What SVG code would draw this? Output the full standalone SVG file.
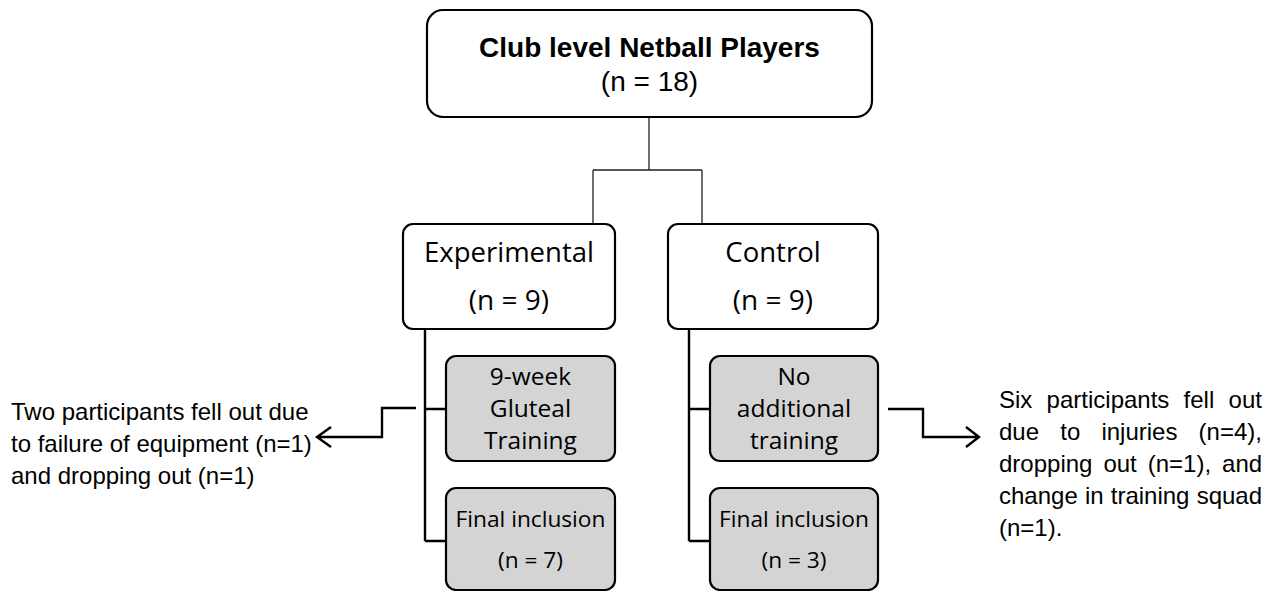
<svg xmlns="http://www.w3.org/2000/svg" width="1270" height="591" viewBox="0 0 1270 591">
<style>
.box{fill:#fff;stroke:#000;stroke-width:2.2}
.gbox{fill:#d4d4d4;stroke:#000;stroke-width:2.2}
.thin{fill:none;stroke:#222;stroke-width:1.3}
.thick{fill:none;stroke:#000;stroke-width:2.4}
.ar{font-family:"Liberation Sans",Arial,sans-serif;fill:#000}
.cb{font-family:"Open Sans","Noto Sans",sans-serif;fill:#000;text-anchor:middle}
</style>
<rect width="1270" height="591" fill="#fff"/>
<g id="connectors">
  <path class="thin" d="M649,117 V170 M593,170 H702 M593,170 V224 M702,170 V224"/>
  <path class="thick" d="M425,329 V541 M425,409 H446 M425,541 H446"/>
  <path class="thick" d="M689,329 V541 M689,409 H710 M689,541 H710"/>
  <path class="thick" d="M416,408 H382 V437 H317 M331,427 L317,437 L331,447"/>
  <path class="thick" d="M888,409 H923 V437 H979 M966,427 L979,437 L966,447"/>
</g>
<g id="root">
  <rect class="box" x="427" y="10" width="445" height="107" rx="16"/>
  <text class="ar" x="649.5" y="57" font-size="28" font-weight="bold" text-anchor="middle">Club level Netball Players</text>
  <text class="ar" x="649.5" y="91" font-size="28" text-anchor="middle">(n = 18)</text>
</g>
<g id="experimental">
  <rect class="box" x="403" y="224" width="212" height="105" rx="10"/>
  <text class="cb" x="509" y="262" font-size="27.5">Experimental</text>
  <text class="cb" x="509" y="310" font-size="28">(n = 9)</text>
</g>
<g id="control">
  <rect class="box" x="668" y="224" width="210" height="105" rx="10"/>
  <text class="cb" x="773" y="262" font-size="27.5">Control</text>
  <text class="cb" x="773" y="310" font-size="28">(n = 9)</text>
</g>
<g id="gluteal">
  <rect class="gbox" x="446" y="356" width="169" height="105" rx="10"/>
  <text class="cb" x="530.5" y="385" font-size="24.5">9-week</text>
  <text class="cb" x="530.5" y="417" font-size="24.5">Gluteal</text>
  <text class="cb" x="530.5" y="449" font-size="24.5">Training</text>
</g>
<g id="noadditional">
  <rect class="gbox" x="710" y="356" width="168" height="105" rx="10"/>
  <text class="cb" x="794" y="385" font-size="24.5">No</text>
  <text class="cb" x="794" y="417" font-size="24.5">additional</text>
  <text class="cb" x="794" y="449" font-size="24.5">training</text>
</g>
<g id="final-exp">
  <rect class="gbox" x="446" y="488" width="169" height="102" rx="10"/>
  <text class="cb" x="530.5" y="527" font-size="22.7">Final inclusion</text>
  <text class="cb" x="530.5" y="568" font-size="22.7">(n = 7)</text>
</g>
<g id="final-ctrl">
  <rect class="gbox" x="710" y="488" width="168" height="102" rx="10"/>
  <text class="cb" x="794" y="527" font-size="22.7">Final inclusion</text>
  <text class="cb" x="794" y="568" font-size="22.7">(n = 3)</text>
</g>
<g id="dropout-exp">
  <text class="ar" font-size="24">
    <tspan x="11" y="420">Two participants fell out due</tspan>
    <tspan x="11" y="452">to failure of equipment (n=1)</tspan>
    <tspan x="11" y="484">and dropping out (n=1)</tspan>
  </text>
</g>
<g id="dropout-ctrl">
  <text class="ar" font-size="24">
    <tspan x="999" y="408" word-spacing="7.6">Six participants fell out</tspan>
    <tspan x="999" y="440" word-spacing="14.5">due to injuries (n=4),</tspan>
    <tspan x="999" y="472" word-spacing="4.3">dropping out (n=1), and</tspan>
    <tspan x="999" y="504" word-spacing="0.5">change in training squad</tspan>
    <tspan x="999" y="536">(n=1).</tspan>
  </text>
</g>
</svg>
